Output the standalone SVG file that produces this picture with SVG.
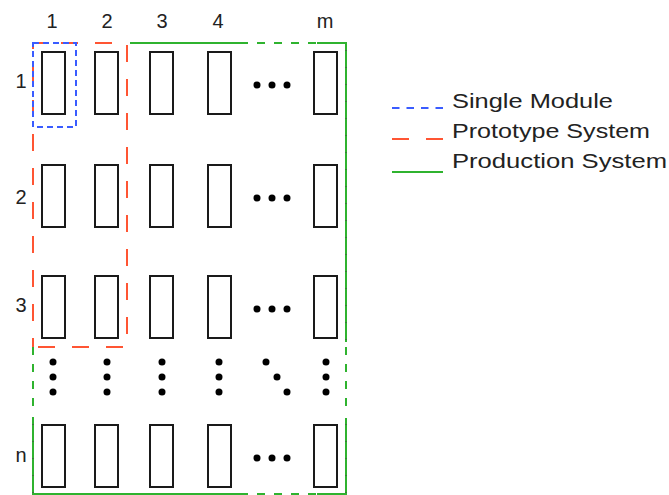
<svg xmlns="http://www.w3.org/2000/svg" width="669" height="495" viewBox="0 0 669 495">
<style>
  .lbl { font-family: "Liberation Sans", Arial, sans-serif; font-size: 20px; fill: #222; text-anchor: middle; }
  .leg { font-family: "Liberation Sans", Arial, sans-serif; font-size: 21px; fill: #222; }
  .mod { fill: #fff; stroke: #1a1a1a; stroke-width: 2; }
  .dot { fill: #000; }
  .blue { fill: none; stroke: #3a5cff; stroke-width: 2; stroke-dasharray: 6 4; }
  .red { fill: none; stroke: #ff5533; stroke-width: 2; stroke-dasharray: 17 17; }
  .grn { fill: none; stroke: #2fb32f; stroke-width: 2; }
  .grnd { fill: none; stroke: #2fb32f; stroke-width: 2; stroke-dasharray: 8 9; }
  .tick { fill: none; stroke: #444; stroke-width: 1; stroke-dasharray: 1 16; }
</style>
<rect width="669" height="495" fill="#fff"/>

<g id="connectors">
  <!-- production system (green) -->
  <path class="grn" d="M130,43 H240 M317,43 H346 V342 M346,418 V494 H317 M240,494 H33 V417"/>
  <path class="grnd" d="M240,43 H317 M346,347 V413 M240,494 H317 M33,347 V410"/>
  <path class="tick" d="M346,50 V342 M346,424 V494 M33,424 V494"/>
  <!-- prototype system (red) -->
  <path class="red" d="M33,347 H127 V43 H33 V347" stroke-dashoffset="-5"/>
  <!-- single module (blue) -->
  <rect class="blue" x="33" y="43" width="43" height="84" fill="#fff"/>
</g>

<g id="col-labels">
  <text class="lbl" x="52" y="28">1</text>
  <text class="lbl" x="107" y="28">2</text>
  <text class="lbl" x="162" y="28">3</text>
  <text class="lbl" x="218" y="28">4</text>
  <text class="lbl" x="325" y="28">m</text>
</g>
<g id="row-labels">
  <text class="lbl" x="21" y="88">1</text>
  <text class="lbl" x="21" y="204">2</text>
  <text class="lbl" x="21" y="312">3</text>
  <text class="lbl" x="21" y="462">n</text>
</g>

<g id="row-1">
  <rect class="mod" x="42" y="52" width="23" height="62"/>
  <rect class="mod" x="95" y="52" width="23" height="62"/>
  <rect class="mod" x="150" y="52" width="23" height="62"/>
  <rect class="mod" x="208" y="52" width="23" height="62"/>
  <circle class="dot" cx="257" cy="85" r="3.5"/><circle class="dot" cx="272" cy="85" r="3.5"/><circle class="dot" cx="287" cy="85" r="3.5"/>
  <rect class="mod" x="314" y="52" width="23" height="62"/>
</g>
<g id="row-2">
  <rect class="mod" x="42" y="165" width="23" height="62"/>
  <rect class="mod" x="95" y="165" width="23" height="62"/>
  <rect class="mod" x="150" y="165" width="23" height="62"/>
  <rect class="mod" x="208" y="165" width="23" height="62"/>
  <circle class="dot" cx="257" cy="198" r="3.5"/><circle class="dot" cx="272" cy="198" r="3.5"/><circle class="dot" cx="287" cy="198" r="3.5"/>
  <rect class="mod" x="314" y="165" width="23" height="62"/>
</g>
<g id="row-3">
  <rect class="mod" x="42" y="276" width="23" height="62"/>
  <rect class="mod" x="95" y="276" width="23" height="62"/>
  <rect class="mod" x="150" y="276" width="23" height="62"/>
  <rect class="mod" x="208" y="276" width="23" height="62"/>
  <circle class="dot" cx="257" cy="309" r="3.5"/><circle class="dot" cx="272" cy="309" r="3.5"/><circle class="dot" cx="287" cy="309" r="3.5"/>
  <rect class="mod" x="314" y="276" width="23" height="62"/>
</g>
<g id="row-dots">
  <circle class="dot" cx="53" cy="362" r="3.5"/><circle class="dot" cx="53" cy="377" r="3.5"/><circle class="dot" cx="53" cy="392" r="3.5"/>
  <circle class="dot" cx="107" cy="362" r="3.5"/><circle class="dot" cx="107" cy="377" r="3.5"/><circle class="dot" cx="107" cy="392" r="3.5"/>
  <circle class="dot" cx="162" cy="362" r="3.5"/><circle class="dot" cx="162" cy="377" r="3.5"/><circle class="dot" cx="162" cy="392" r="3.5"/>
  <circle class="dot" cx="219" cy="362" r="3.5"/><circle class="dot" cx="219" cy="377" r="3.5"/><circle class="dot" cx="219" cy="392" r="3.5"/>
  <circle class="dot" cx="266" cy="362" r="3.5"/><circle class="dot" cx="277" cy="377" r="3.5"/><circle class="dot" cx="287" cy="392" r="3.5"/>
  <circle class="dot" cx="326" cy="362" r="3.5"/><circle class="dot" cx="326" cy="377" r="3.5"/><circle class="dot" cx="326" cy="392" r="3.5"/>
</g>
<g id="row-n">
  <rect class="mod" x="42" y="425" width="23" height="62"/>
  <rect class="mod" x="95" y="425" width="23" height="62"/>
  <rect class="mod" x="150" y="425" width="23" height="62"/>
  <rect class="mod" x="208" y="425" width="23" height="62"/>
  <circle class="dot" cx="257" cy="458" r="3.5"/><circle class="dot" cx="272" cy="458" r="3.5"/><circle class="dot" cx="287" cy="458" r="3.5"/>
  <rect class="mod" x="314" y="425" width="23" height="62"/>
</g>

<g id="legend">
  <line x1="392" y1="108" x2="444" y2="108" stroke="#3a5cff" stroke-width="2" stroke-dasharray="7.5 7"/>
  <text class="leg" x="452" y="108" textLength="161" lengthAdjust="spacingAndGlyphs">Single Module</text>
  <line x1="392" y1="139" x2="443" y2="139" stroke="#ff5533" stroke-width="2" stroke-dasharray="17 17"/>
  <text class="leg" x="452" y="138" textLength="198" lengthAdjust="spacingAndGlyphs">Prototype System</text>
  <line x1="392" y1="172" x2="443" y2="172" stroke="#2fb32f" stroke-width="2"/>
  <text class="leg" x="452" y="168" textLength="215" lengthAdjust="spacingAndGlyphs">Production System</text>
</g>
</svg>
